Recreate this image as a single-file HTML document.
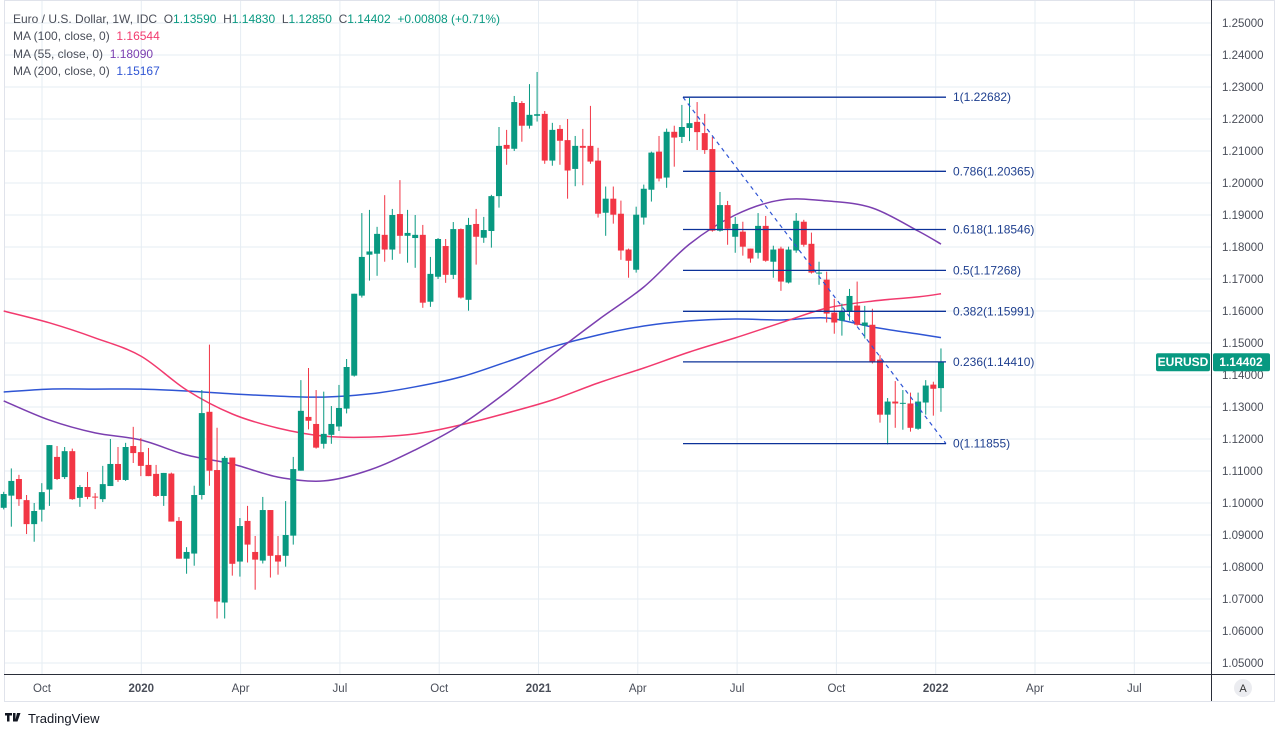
<!DOCTYPE html>
<html><head><meta charset="utf-8">
<style>
html,body{margin:0;padding:0;background:#fff;width:1277px;height:729px;overflow:hidden;font-family:"Liberation Sans",sans-serif}
#wrap{position:absolute;left:0;top:0}
.hdr{position:absolute;left:13px;font-size:12px;color:#4a4e59;white-space:pre}
</style></head><body>
<div id="wrap">
<svg id="chart" width="1277" height="729" xmlns="http://www.w3.org/2000/svg"></svg>
</div>
<div class="hdr" style="top:12px">Euro / U.S. Dollar, 1W, IDC  O<span style="color:#089981">1.13590</span>  H<span style="color:#089981">1.14830</span>  L<span style="color:#089981">1.12850</span>  C<span style="color:#089981">1.14402</span>  <span style="color:#089981">+0.00808 (+0.71%)</span></div>
<div class="hdr" style="top:29px">MA (100, close, 0)  <span style="color:#f23a6e">1.16544</span></div>
<div class="hdr" style="top:47px">MA (55, close, 0)  <span style="color:#7b3fb0">1.18090</span></div>
<div class="hdr" style="top:64px">MA (200, close, 0)  <span style="color:#2f55d4">1.15167</span></div>
<script>
const opens=[1.0985,1.1023,1.1075,1.1009,1.0934,1.0979,1.1042,1.1144,1.1081,1.1162,1.1016,1.1050,1.1020,1.1012,1.1053,1.1122,1.1072,1.1178,1.1159,1.1119,1.1091,1.1022,1.1092,1.0944,1.0826,1.0842,1.1025,1.1285,1.1103,1.0689,1.1142,1.0817,1.0944,1.0847,1.0820,1.0978,1.0837,1.0835,1.0898,1.1101,1.1269,1.1247,1.1185,1.1213,1.1239,1.1295,1.1398,1.1648,1.1776,1.1779,1.1838,1.1792,1.1903,1.1835,1.1828,1.1838,1.1629,1.1707,1.1803,1.1713,1.1856,1.1635,1.1872,1.1829,1.1850,1.1959,1.2119,1.2107,1.2250,1.2179,1.2210,1.2216,1.2070,1.2169,1.2134,1.2044,1.2116,1.2116,1.2070,1.1907,1.1951,1.1904,1.1792,1.1729,1.1892,1.1979,1.2098,1.2017,1.2160,1.2144,1.2172,1.2191,1.2156,1.2106,1.1851,1.1931,1.1832,1.1848,1.1795,1.1782,1.1866,1.1754,1.1795,1.1689,1.1789,1.1879,1.1810,1.1717,1.1698,1.1595,1.1570,1.1598,1.1617,1.1554,1.1557,1.1448,1.1276,1.1317,1.1311,1.1311,1.1232,1.1314,1.1370,1.1359];
const highs=[1.1035,1.1108,1.1088,1.1025,1.1000,1.1062,1.1181,1.1178,1.1175,1.1170,1.1056,1.1097,1.1031,1.1116,1.1200,1.1175,1.1188,1.1238,1.1203,1.1172,1.1119,1.1094,1.1095,1.0956,1.0862,1.1054,1.1353,1.1495,1.1235,1.1147,1.1142,1.0953,1.0991,1.0897,1.1019,1.0978,1.0897,1.1006,1.1144,1.1384,1.1422,1.1353,1.1348,1.1303,1.1369,1.1450,1.1654,1.1906,1.1916,1.1863,1.1962,1.1919,1.2009,1.1916,1.1900,1.1869,1.1769,1.1828,1.1825,1.1878,1.1858,1.1891,1.1919,1.1894,1.1963,1.2175,1.2166,1.2272,1.2256,1.2309,1.2347,1.2225,1.2188,1.2181,1.2200,1.2147,1.2169,1.2241,1.2110,1.1989,1.1989,1.1945,1.1795,1.1926,1.1995,1.2098,1.2147,1.2170,1.2179,1.2244,1.2266,1.2253,1.2216,1.2144,1.1972,1.1944,1.1894,1.1879,1.1795,1.1906,1.1897,1.1804,1.1801,1.1801,1.1906,1.1885,1.1845,1.1754,1.1723,1.1638,1.1623,1.1669,1.1692,1.1616,1.1607,1.1462,1.1328,1.1381,1.1353,1.1345,1.1345,1.1384,1.1379,1.1483];
const lows=[1.0980,1.0926,1.0991,1.0903,1.0879,1.0942,1.0991,1.1072,1.1075,1.1010,1.0988,1.1012,1.0981,1.1003,1.1053,1.1066,1.1069,1.1125,1.1084,1.1084,1.1019,1.0991,1.0942,1.0826,1.0779,1.0804,1.1011,1.1054,1.0639,1.0639,1.0773,1.0770,1.0814,1.0729,1.0811,1.0767,1.0776,1.0801,1.0870,1.1101,1.1230,1.1170,1.1170,1.1185,1.1225,1.1280,1.1395,1.1642,1.1695,1.1710,1.1754,1.1760,1.1779,1.1751,1.1735,1.1610,1.1613,1.1700,1.1688,1.1700,1.1639,1.1601,1.1745,1.1813,1.1798,1.1923,1.2057,1.2100,1.2129,1.2170,1.2192,1.2060,1.2054,1.2057,1.1951,1.1990,1.1993,1.2060,1.1892,1.1835,1.1873,1.1760,1.1704,1.1720,1.1870,1.1942,1.2005,1.1985,1.2051,1.2125,1.2131,1.2103,1.2091,1.1848,1.1848,1.1807,1.1782,1.1773,1.1751,1.1764,1.1754,1.1704,1.1663,1.1686,1.1782,1.1801,1.1717,1.1682,1.1564,1.1529,1.1523,1.1570,1.1554,1.1514,1.1436,1.1251,1.1183,1.1235,1.1229,1.1223,1.1229,1.1276,1.1273,1.1285];
const closes=[1.1028,1.1069,1.1012,1.0934,1.0975,1.1034,1.1181,1.1075,1.1162,1.1012,1.1050,1.1019,1.1018,1.1059,1.1122,1.1072,1.1175,1.1156,1.1116,1.1084,1.1022,1.1094,1.0942,1.0826,1.0847,1.1025,1.1281,1.1101,1.0692,1.1141,1.0810,1.0928,1.0870,1.0823,1.0978,1.0835,1.0817,1.0900,1.1106,1.1288,1.1257,1.1173,1.1216,1.1247,1.1297,1.1425,1.1654,1.1769,1.1786,1.1841,1.1792,1.1900,1.1835,1.1844,1.1838,1.1626,1.1716,1.1825,1.1713,1.1856,1.1642,1.1869,1.1832,1.1853,1.1959,1.2116,1.2107,1.2253,1.2179,1.2213,1.2215,1.2070,1.2166,1.2132,1.2039,1.2116,1.2110,1.2067,1.1904,1.1951,1.1901,1.1789,1.1757,1.1901,1.1982,1.2095,1.2014,1.2160,1.2142,1.2175,1.2187,1.2159,1.2103,1.1851,1.1931,1.1857,1.1872,1.1801,1.1764,1.1866,1.1757,1.1792,1.1692,1.1792,1.1882,1.1807,1.1720,1.1720,1.1592,1.1564,1.1598,1.1647,1.1557,1.1564,1.1439,1.1276,1.1317,1.1311,1.1313,1.1235,1.1317,1.1367,1.1357,1.1440];
const maIdx=[0,6,12,18,24,30,36,42,48,54,60,66,72,78,84,90,96,102,108,114,120,123];
const ma200=[1.1347,1.1356,1.1356,1.1356,1.1350,1.1341,1.1334,1.1331,1.1341,1.1363,1.1394,1.1441,1.1488,1.1525,1.1553,1.1569,1.1575,1.1572,1.1578,1.1550,1.1528,1.1517];
const ma100=[1.1600,1.1563,1.1516,1.1459,1.1353,1.1278,1.1234,1.1209,1.1206,1.1216,1.1244,1.1281,1.1322,1.1375,1.1422,1.1472,1.1516,1.1563,1.1609,1.1631,1.1644,1.1654];
const ma55=[1.1319,1.1259,1.1219,1.1197,1.1150,1.1122,1.1081,1.1069,1.1103,1.1166,1.1244,1.1347,1.1463,1.1572,1.1675,1.1809,1.1900,1.1947,1.1944,1.1922,1.1850,1.1809];
const fibLevels=[1,0.786,0.618,0.5,0.382,0.236,0];
const fibHigh=1.22682, fibLow=1.11855;
const priceTicks=[1.25,1.24,1.23,1.22,1.21,1.20,1.19,1.18,1.17,1.16,1.15,1.14,1.13,1.12,1.11,1.10,1.09,1.08,1.07,1.06,1.05];
const timeLabels=["Oct","2020","Apr","Jul","Oct","2021","Apr","Jul","Oct","2022","Apr","Jul"];
const timeIdx=[5,18,31,44,57,70,83,96,109,122,135,148];

const NS="http://www.w3.org/2000/svg";
const svg=document.getElementById('chart');
const X=i=>3.7+7.62*i;
const TX=i=>42+(i-5)*99.3/13;
const Y=p=>23+(1.25-p)*3200;
function el(tag,attrs,parent){const e=document.createElementNS(NS,tag);for(const k in attrs)e.setAttribute(k,attrs[k]);(parent||svg).appendChild(e);return e;}

const frame=el('rect',{x:4.5,y:0.5,width:1270,height:701,fill:'none',stroke:'#e0e3eb'});


priceTicks.forEach(p=>{
  const g=el('line',{x1:5,x2:1211,y1:Y(p),y2:Y(p),stroke:'#e6edf3','stroke-width':1});
  
  
  const t=el('text',{x:1222,y:Y(p)+4,'font-size':11.5,fill:'#4a4e59','font-family':'Liberation Sans, sans-serif'});
  t.textContent=p.toFixed(5);
  
  
});
timeLabels.forEach((s,k)=>{
  const x=TX(timeIdx[k]);
  const g=el('line',{x1:x,x2:x,y1:1,y2:674,stroke:'#e6edf3','stroke-width':1});
  
  
  const t=el('text',{x:x,y:692,'font-size':11.5,fill:'#4a4e59','text-anchor':'middle','font-weight':(/^\d/.test(s)?'bold':'normal'),'font-family':'Liberation Sans, sans-serif'});
  t.textContent=s;
  
  
});
const ax1=el('line',{x1:1211.5,x2:1211.5,y1:0,y2:701,stroke:'#2a2e39'});


const ax2=el('line',{x1:4,x2:1275,y1:674.5,y2:674.5,stroke:'#2a2e39'});



function maLine(arr,color,name){
  const P=arr.map((v,k)=>[X(maIdx[k]),Y(v)]);
  let d='M'+P[0][0].toFixed(1)+','+P[0][1].toFixed(1);
  for(let k=0;k<P.length-1;k++){
    const p0=P[Math.max(0,k-1)],p1=P[k],p2=P[k+1],p3=P[Math.min(P.length-1,k+2)];
    const c1=[p1[0]+(p2[0]-p0[0])/6,p1[1]+(p2[1]-p0[1])/6];
    const c2=[p2[0]-(p3[0]-p1[0])/6,p2[1]-(p3[1]-p1[1])/6];
    d+=' C'+c1[0].toFixed(1)+','+c1[1].toFixed(1)+' '+c2[0].toFixed(1)+','+c2[1].toFixed(1)+' '+p2[0].toFixed(1)+','+p2[1].toFixed(1);
  }
  const l=el('path',{d:d,fill:'none',stroke:color,'stroke-width':1.5});
  
  
}
maLine(ma200,'#2f55d4','ma200-line');
maLine(ma100,'#f23a6e','ma100-line');
maLine(ma55,'#7b3fb0','ma55-line');

opens.forEach((o,i)=>{
  const c=closes[i],h=highs[i],l=lows[i];
  const col=c>=o?'#089981':'#f23645';
  const x=X(i);
  const g=el('g',{});
  
  
  el('line',{x1:x,x2:x,y1:Y(h),y2:Y(l),stroke:col,'stroke-width':1},g);
  const top=Y(Math.max(o,c)),bot=Y(Math.min(o,c));
  el('rect',{x:x-3,y:top,width:6,height:Math.max(1,bot-top),fill:col},g);
});

const fx1=683,fx2=946;
const diag=el('line',{x1:fx1,y1:Y(fibHigh),x2:fx2,y2:Y(fibLow),stroke:'#2f55d4','stroke-width':1.2,'stroke-dasharray':'4,4'});


fibLevels.forEach(f=>{
  const p=fibLow+(fibHigh-fibLow)*f;
  const yy=Y(p);
  const l=el('line',{x1:fx1,x2:fx2,y1:yy,y2:yy,stroke:'#0c3299','stroke-width':1.3});
  
  
  const t=el('text',{x:953,y:yy+4,'font-size':12,fill:'#1e3f8f','font-family':'Liberation Sans, sans-serif'});
  t.textContent=(f===1?'1':f===0?'0':String(f))+'('+p.toFixed(5)+')';
  
  
});

const lastC=closes[closes.length-1];
const ly=Y(lastC);
const b1=el('rect',{x:1156,y:ly-9,width:54,height:18,rx:2,fill:'#089981'});


const t1=el('text',{x:1183,y:ly+4,'font-size':12,fill:'#fff','text-anchor':'middle','font-weight':'bold','font-family':'Liberation Sans, sans-serif'});
t1.textContent='EURUSD';


const b2=el('rect',{x:1213,y:ly-9,width:57,height:18,rx:2,fill:'#089981'});


const t2=el('text',{x:1241,y:ly+4,'font-size':12,fill:'#fff','text-anchor':'middle','font-weight':'bold','font-family':'Liberation Sans, sans-serif'});
t2.textContent='1.14402';



const ac=el('circle',{cx:1243,cy:688,r:9,fill:'#ebecf0'});


const at=el('text',{x:1243,y:692,'font-size':11,fill:'#333','text-anchor':'middle','font-family':'Liberation Sans, sans-serif'});
at.textContent='A';



const lg=el('g',{});


el('path',{d:'M5 713h7v2.5h-2.5v6h-2.5v-6h-2z M13 713h2.5v8.5h-2.5z M17 713h3.5l-3 8.5h-2.5z',fill:'#131722'},lg);
const lt=el('text',{x:28,y:723,'font-size':13,fill:'#131722','font-family':'Liberation Sans, sans-serif'},lg);
lt.textContent='TradingView';
</script>
</body></html>
